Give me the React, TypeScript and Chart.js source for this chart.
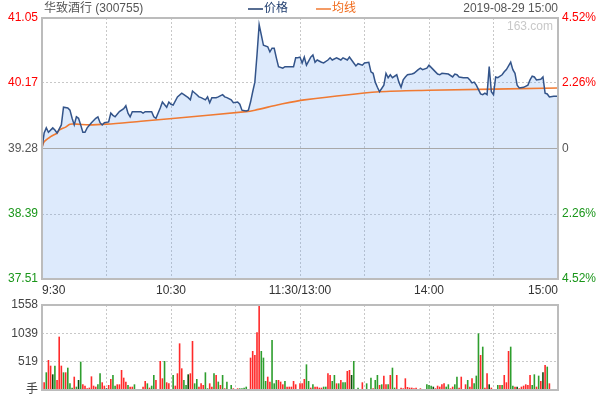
import React, { useEffect, useRef } from 'react';
import { Chart, registerables } from 'chart.js';

Chart.register(...registerables);

// ---------- data ----------
const stockTitle = '华致酒行 (300755)';
const dateLabel = '2019-08-29 15:00';
const legendPrice = '价格';
const legendAvg = '均线';
const watermark = '163.com';

const prevClose = 39.28;
const priceTicks = [37.51, 38.39, 39.28, 40.17, 41.05];
const pctTickLabels = ['4.52%', '2.26%', '0', '2.26%', '4.52%'];

const gridMinutes = [0, 30, 60, 90, 120, 150, 180, 210, 240];
const xTickMinutes = [0, 60, 120, 180, 240];
const xTickLabels = ['9:30', '10:30', '11:30/13:00', '14:00', '15:00'];

const volTicks = [0, 519, 1039, 1558];
const volUnit = '手';

// minutes since 9:30 (trading minutes, lunch break removed) and price
const priceTime = [
  0, 1, 2, 3, 5, 6, 7, 9, 10, 12, 13, 14, 15, 16, 17, 18, 19, 20, 21, 23,
  25, 26, 27, 28, 29, 31, 32, 33, 34, 36, 38, 39, 40, 41, 42, 44, 46, 47, 48, 50,
  51, 52, 53, 55, 56, 58, 59, 60, 61, 63, 65, 66, 68, 69, 70, 72, 73, 74, 76, 77,
  78, 79, 81, 82, 84, 85, 86, 88, 89, 91, 92, 93, 95, 96, 97, 98, 99, 100, 101, 102,
  103, 105, 106, 107, 108, 109, 110, 112, 113, 115, 117, 118, 119, 120, 121, 122, 123, 125, 126, 127,
  128, 130, 131, 133, 134, 135, 137, 139, 140, 142, 143, 145, 146, 147, 149, 150, 152, 153, 154, 155,
  156, 157, 159, 160, 161, 162, 163, 165, 166, 167, 168, 169, 170, 172, 173, 175, 176, 177, 179, 180,
  182, 184, 185, 186, 189, 191, 192, 193, 194, 196, 198, 199, 200, 201, 202, 204, 205, 206, 207, 208,
  209, 210, 211, 212, 214, 215, 216, 218, 219, 220, 221, 222, 224, 226, 227, 228, 229, 230, 232, 233,
  234, 235, 236, 238, 240,
];
const price = [
  39.28, 39.49, 39.56, 39.5, 39.56, 39.53, 39.49, 39.6, 39.84, 39.83, 39.8, 39.69, 39.6, 39.71, 39.69, 39.6, 39.5, 39.5, 39.56, 39.63,
  39.69, 39.71, 39.63, 39.6, 39.63, 39.64, 39.76, 39.73, 39.71, 39.78, 39.82, 39.86, 39.76, 39.71, 39.78, 39.78, 39.78, 39.76, 39.78, 39.78,
  39.78, 39.71, 39.69, 39.83, 39.91, 39.84, 39.91, 39.88, 39.87, 39.98, 40.03, 40.01, 39.97, 39.94, 40.06, 40.01, 39.98, 39.97, 39.94, 39.98,
  39.9, 39.97, 39.97, 39.98, 40.01, 39.98, 39.97, 39.94, 39.9, 39.91, 39.88, 39.8, 39.79, 39.8, 39.91, 40.05, 40.18, 40.55, 40.96, 40.82,
  40.68, 40.66, 40.59, 40.64, 40.64, 40.51, 40.39, 40.37, 40.39, 40.39, 40.39, 40.51, 40.51, 40.52, 40.44, 40.52, 40.41, 40.52, 40.55, 40.45,
  40.48, 40.45, 40.44, 40.48, 40.51, 40.48, 40.51, 40.48, 40.51, 40.48, 40.52, 40.44, 40.4, 40.43, 40.41, 40.44, 40.45, 40.32, 40.3, 40.18,
  40.11, 40.05, 40.14, 40.3, 40.24, 40.28, 40.24, 40.28, 40.18, 40.11, 40.21, 40.25, 40.28, 40.29, 40.3, 40.35, 40.37, 40.35, 40.37, 40.41,
  40.35, 40.29, 40.28, 40.3, 40.29, 40.25, 40.29, 40.28, 40.25, 40.24, 40.24, 40.21, 40.17, 40.18, 40.14, 40.02, 40.01, 40.03, 40.01, 40.39,
  40.05, 40.01, 40.25, 40.24, 40.28, 40.32, 40.35, 40.45, 40.35, 40.3, 40.14, 40.1, 40.11, 40.14, 40.21, 40.26, 40.25, 40.21, 40.22, 40.25,
  40.03, 40.02, 39.98, 39.99, 39.99,
];

const avgTime = [0, 1, 4, 7, 8, 11, 13, 16, 22, 30, 46, 62, 95, 99, 111, 122, 157, 180, 240];
const avgPrice = [39.29, 39.37, 39.44, 39.49, 39.53, 39.57, 39.61, 39.61, 39.6, 39.61, 39.65, 39.69, 39.78, 39.8, 39.88, 39.94, 40.05, 40.07, 40.1];

// volume per minute (241 minutes) and direction (1 up, -1 down, 0 flat)
const volume = [
  428, 141, 324, 550, 446, 287, 446, 183, 978, 446,
  324, 324, 409, 122, 43, 244, 61, 183, 519, 104,
  79, 31, 43, 250, 79, 61, 104, 306, 141, 79,
  31, 92, 202, 275, 79, 104, 104, 367, 226, 153,
  92, 61, 61, 104, 18, 5, 18, 61, 165, 122,
  43, 79, 275, 183, 12, 532, 214, 532, 141, 122,
  18, 275, 79, 306, 855, 397, 183, 92, 287, 306,
  898, 122, 202, 61, 122, 92, 324, 31, 122, 61,
  306, 275, 153, 92, 275, 31, 153, 18, 92, 31,
  18, 31, 31, 31, 43, 61, 18, 593, 715, 642,
  1057, 1558, 715, 593, 165, 244, 153, 917, 122, 183,
  183, 153, 104, 165, 61, 61, 61, 165, 104, 0,
  122, 122, 202, 470, 165, 43, 104, 61, 61, 43, 43, 61, 61, 306, 275,
  165, 275, 122, 122, 183, 141, 141, 348, 367, 275, 532, 18, 43, 12, 141, 18, 122, 12, 226, 31, 183, 275, 92,
  104, 263, 104, 104, 275, 409, 43, 275, 18, 43, 31, 214,
  55, 43, 43, 31, 43, 18, 31, 18, 18, 104, 92, 79, 61, 31, 79, 61, 104, 122, 61, 104, 31, 61, 104, 244, 43, 244, 18, 104, 183, 61,
  214, 122, 263, 1039, 642, 794, 43, 306, 104, 43, 18, 18, 92, 92, 92, 275, 141, 715, 794, 79, 61, 61, 31, 61, 79, 104, 92, 275, 92, 287, 61, 263, 165, 324, 458, 428, 122,
  0, 0, 0, 1039,
];
const volumeDir = [
  1, 1, -1, 1, 1, 0, -1, 1, 1, 1,
  -1, 1, -1, -1, -1, 1, -1, 0, -1, 1,
  1, 1, 1, 1, 1, 1, -1, -1, 1, 1,
  0, 1, 1, -1, -1, 1, 1, 1, 1, 1,
  -1, 1, 1, -1, -1, 1, -1, 1, 1, -1,
  1, -1, -1, 1, -1, 1, 1, -1, 1, 1,
  -1, -1, 1, 1, 1, 1, -1, -1, 0, 1,
  1, -1, -1, 1, 1, 1, -1, -1, 1, 1,
  -1, 1, -1, 1, -1, 1, -1, -1, -1, 1,
  -1, 1, -1, -1, -1, -1, 1, 1, 1, 1,
  1, 1, -1, -1, -1, 1, 1, -1, -1, -1,
  1, 1, 1, -1, 1, 1, 1, 1, 1, 1,
  1, 1, 1, -1, -1, 1, -1, 1, 1, 1, 1, -1, -1, 1, 1,
  -1, -1, 1, -1, 1, -1, -1, 1, 1, 0, -1, 1, -1, 1, 1, 1, -1, 1, -1, 1, -1, -1, 1,
  -1, 1, 1, -1, 1, -1, -1, 1, 1, 1, 1, 1,
  1, 1, 1, 1, 1, 1, 1, 1, 1, -1, -1, -1, 0, 1, 1, 1, 1, 1, -1, -1, 1, 1, -1, -1, 1, 1, -1, 1, -1, 1,
  1, -1, -1, -1, 1, -1, 1, 1, 0, 1, 1, 1, -1, 1, -1, 1, 1, 1, -1, -1, 1, 0, 1, 1, 1, 1, 1, 1, -1, -1, 1, -1, 1, 0, 1, -1, 1,
  1, 1, 1, -1,
];

// ---------- styles ----------
const FONT = '"Liberation Sans", Arial, "Noto Sans CJK SC", sans-serif';
const RED = '#ff0000';
const GREEN = '#1a961a';
const GRAY_TXT = '#555555';
const GRID = '#c8c8c8';
const FRAME = '#bcbcbc';
const BLUE = '#33548a';
const ORANGE = '#f07a32';

const near = (a: number, b: number) => Math.abs(a - b) < 1e-6;
const priceColor = (v: number) => (near(v, prevClose) ? GRAY_TXT : v > prevClose ? RED : GREEN);

const framePlugin = {
  id: 'frame',
  afterDraw(chart: any) {
    const { ctx, chartArea: a } = chart;
    ctx.save();
    ctx.strokeStyle = FRAME;
    ctx.lineWidth = 2;
    ctx.strokeRect(a.left, a.top, a.right - a.left, a.bottom - a.top);
    ctx.restore();
  },
};

const prevClosePlugin = {
  id: 'prevClose',
  beforeDatasetsDraw(chart: any) {
    const { ctx, chartArea: a } = chart;
    const y = Math.round(chart.scales.y.getPixelForValue(prevClose)) + 0.5;
    ctx.save();
    ctx.strokeStyle = '#a8a8a8';
    ctx.lineWidth = 1;
    ctx.beginPath();
    ctx.moveTo(a.left, y);
    ctx.lineTo(a.right, y);
    ctx.stroke();
    ctx.restore();
  },
};

const headerPlugin = {
  id: 'header',
  afterDraw(chart: any) {
    const { ctx, chartArea: a } = chart;
    ctx.save();
    ctx.font = `12px ${FONT}`;
    ctx.textBaseline = 'middle';
    const y = 9;
    ctx.fillStyle = GRAY_TXT;
    ctx.textAlign = 'left';
    ctx.fillText(stockTitle, 44, y);
    ctx.textAlign = 'right';
    ctx.fillText(dateLabel, a.right, y);
    // legend
    ctx.lineWidth = 1.5;
    ctx.strokeStyle = '#1f3d6e';
    ctx.beginPath();
    ctx.moveTo(248, y);
    ctx.lineTo(263, y);
    ctx.stroke();
    ctx.fillStyle = '#1f3d6e';
    ctx.textAlign = 'left';
    ctx.fillText(legendPrice, 264, y);
    ctx.strokeStyle = ORANGE;
    ctx.beginPath();
    ctx.moveTo(316, y);
    ctx.lineTo(331, y);
    ctx.stroke();
    ctx.fillStyle = '#f06a1a';
    ctx.fillText(legendAvg, 332, y);
    // watermark
    ctx.fillStyle = '#c8c8c8';
    ctx.textAlign = 'right';
    ctx.fillText(watermark, a.right - 5, 27);
    ctx.restore();
  },
};

const verticalGrid = {
  color: (c: any) => (c.tick && (c.tick.value === 0 || c.tick.value === 240) ? 'transparent' : GRID),
  drawTicks: false,
  lineWidth: 1,
};

export default function App() {
  const mainRef = useRef<HTMLCanvasElement>(null);
  const volRef = useRef<HTMLCanvasElement>(null);

  useEffect(() => {
    const pricePoints = priceTime.map((t, i) => ({ x: t, y: price[i] }));
    const avgPoints = avgTime.map((t, i) => ({ x: t, y: avgPrice[i] }));

    const main = new Chart(mainRef.current as HTMLCanvasElement, {
      type: 'line',
      data: {
        datasets: [
          {
            label: legendAvg,
            data: avgPoints,
            borderColor: ORANGE,
            borderWidth: 1.6,
            pointRadius: 0,
            fill: false,
            tension: 0.3,
            order: 1,
          },
          {
            label: legendPrice,
            data: pricePoints,
            borderColor: BLUE,
            borderWidth: 1.5,
            pointRadius: 0,
            fill: 'start',
            backgroundColor: 'rgba(100,160,240,0.22)',
            tension: 0,
            order: 0,
          },
        ],
      },
      options: {
        animation: false,
        responsive: false,
        layout: { padding: { top: 18, left: 0, right: 0, bottom: 0 } },
        plugins: {
          legend: { display: false },
          tooltip: { enabled: false },
          filler: { drawTime: 'beforeDatasetsDraw' },
        } as any,
        scales: {
          x: {
            type: 'linear',
            min: 0,
            max: 240,
            afterBuildTicks: (s: any) => {
              s.ticks = gridMinutes.map((v) => ({ value: v }));
            },
            afterFit: (s: any) => {
              s.height = 21;
            },
            grid: verticalGrid,
            border: { display: false, dash: [2, 2] },
            ticks: {
              autoSkip: false,
              maxRotation: 0,
              align: 'inner',
              padding: 4,
              color: '#333',
              font: { size: 12, family: FONT },
              callback: (v: any) => {
                const i = xTickMinutes.indexOf(Number(v));
                return i >= 0 ? xTickLabels[i] : '';
              },
            },
          } as any,
          y: {
            position: 'left',
            min: priceTicks[0],
            max: priceTicks[priceTicks.length - 1],
            afterBuildTicks: (s: any) => {
              s.ticks = priceTicks.map((v) => ({ value: v }));
            },
            afterFit: (s: any) => {
              s.width = 42;
              s.paddingTop = 0;
              s.paddingBottom = 0;
            },
            grid: {
              color: (c: any) =>
                c.tick && (near(c.tick.value, 40.17) || near(c.tick.value, 38.39)) ? GRID : 'transparent',
              drawTicks: false,
            },
            border: { display: false, dash: [2, 2] },
            ticks: {
              autoSkip: false,
              padding: 4,
              font: { size: 12, family: FONT },
              color: (c: any) => priceColor(c.tick.value),
              callback: (v: any) => Number(v).toFixed(2),
            },
          } as any,
          y2: {
            position: 'right',
            min: priceTicks[0],
            max: priceTicks[priceTicks.length - 1],
            afterBuildTicks: (s: any) => {
              s.ticks = priceTicks.map((v) => ({ value: v }));
            },
            afterFit: (s: any) => {
              s.width = 42;
              s.paddingTop = 0;
              s.paddingBottom = 0;
            },
            grid: { display: false, drawTicks: false },
            border: { display: false },
            ticks: {
              autoSkip: false,
              padding: 4,
              font: { size: 12, family: FONT },
              color: (c: any) => priceColor(c.tick.value),
              callback: (_v: any, i: number) => pctTickLabels[i],
            },
          } as any,
        },
      },
      plugins: [prevClosePlugin, framePlugin, headerPlugin],
    });

    const vol = new Chart(volRef.current as HTMLCanvasElement, {
      type: 'bar',
      data: {
        datasets: [
          {
            data: volume.map((v, i) => ({ x: i, y: v })),
            backgroundColor: volumeDir.map((d) => (d > 0 ? '#ff2a2a' : d < 0 ? '#2e9e2e' : '#0d4d0d')),
            barPercentage: 0.75,
            categoryPercentage: 1,
          },
        ],
      },
      options: {
        animation: false,
        responsive: false,
        layout: { padding: { top: 15, right: 42, left: 0, bottom: 0 } },
        plugins: { legend: { display: false }, tooltip: { enabled: false } },
        scales: {
          x: {
            type: 'linear',
            min: 0,
            max: 240,
            offset: false,
            afterBuildTicks: (s: any) => {
              s.ticks = gridMinutes.map((v) => ({ value: v }));
            },
            afterFit: (s: any) => {
              s.height = 10;
              s.paddingLeft = 0;
              s.paddingRight = 0;
            },
            grid: { ...verticalGrid, offset: false },
            border: { display: false, dash: [2, 2] },
            ticks: { display: false },
          } as any,
          y: {
            min: 0,
            max: volTicks[volTicks.length - 1],
            afterBuildTicks: (s: any) => {
              s.ticks = volTicks.map((v) => ({ value: v }));
            },
            afterFit: (s: any) => {
              s.width = 42;
              s.paddingTop = 0;
              s.paddingBottom = 0;
            },
            grid: {
              color: (c: any) =>
                c.tick && c.tick.value > 0 && c.tick.value < volTicks[volTicks.length - 1] ? GRID : 'transparent',
              drawTicks: false,
            },
            border: { display: false, dash: [2, 2] },
            ticks: {
              autoSkip: false,
              padding: 4,
              color: '#444',
              font: { size: 12, family: FONT },
              callback: (v: any) => (Number(v) === 0 ? volUnit : String(v)),
            },
          } as any,
        },
      },
      plugins: [framePlugin],
    });

    return () => {
      main.destroy();
      vol.destroy();
    };
  }, []);

  return (
    <div style={{ position: 'absolute', left: 0, top: 0, width: 600, height: 400, background: '#fff' }}>
      <canvas ref={mainRef} width={600} height={300} style={{ position: 'absolute', left: 0, top: 0, display: 'block' }} />
      <canvas ref={volRef} width={600} height={110} style={{ position: 'absolute', left: 0, top: 290, display: 'block' }} />
    </div>
  );
}
